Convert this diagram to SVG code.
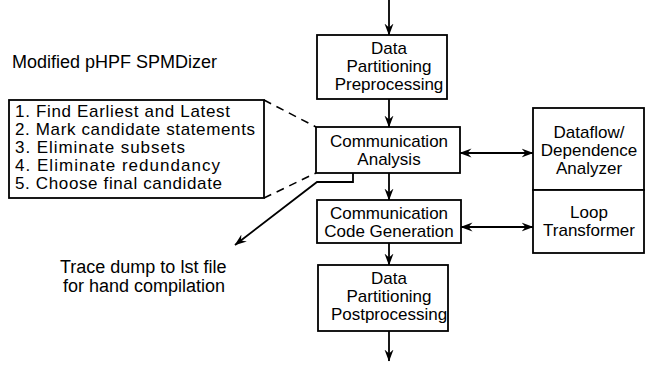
<svg xmlns="http://www.w3.org/2000/svg" width="648" height="365" viewBox="0 0 648 365">
<defs>
<marker id="ah" viewBox="0 0 12 10" refX="11.5" refY="5" markerWidth="12" markerHeight="10" markerUnits="userSpaceOnUse" orient="auto-start-reverse">
<path d="M0,0.5 L12,5 L0,9.5 L4,5 Z" fill="#000"/>
</marker>
<style>
.box{fill:#fff;stroke:#000;stroke-width:1.8}
.t{font-family:"Liberation Sans",Arial,Helvetica,sans-serif;font-size:18px;fill:#000}
.s{font-size:17px}
.c{text-anchor:middle}
.ln{fill:none;stroke:#000;stroke-width:1.8}
.dash{fill:none;stroke:#000;stroke-width:1.6;stroke-dasharray:8 6}
</style>
</defs>
<rect width="648" height="365" fill="#fff"/>
<text class="t" x="12" y="68">Modified pHPF SPMDizer</text>
<g id="connectors">
<line class="ln" x1="389" y1="0" x2="389" y2="35" marker-end="url(#ah)"/>
<line class="ln" x1="389" y1="99" x2="389" y2="127" marker-end="url(#ah)"/>
<line class="ln" x1="389" y1="173" x2="389" y2="200" marker-end="url(#ah)"/>
<line class="ln" x1="389" y1="243" x2="389" y2="265" marker-end="url(#ah)"/>
<line class="ln" x1="389" y1="331" x2="389" y2="361" marker-end="url(#ah)"/>
<line class="ln" x1="460" y1="153" x2="533" y2="153" marker-start="url(#ah)" marker-end="url(#ah)"/>
<line class="ln" x1="461" y1="227" x2="533" y2="227" marker-start="url(#ah)" marker-end="url(#ah)"/>
<path class="ln" d="M353,173 L353,182 L317,182 L235,245" marker-end="url(#ah)"/>
<line class="dash" x1="264" y1="100" x2="316" y2="127"/>
<line class="dash" x1="264" y1="198" x2="316" y2="173"/>
</g>
<g id="steps">
<rect class="box" x="9" y="100" width="255" height="98"/>
<text class="t s" x="15" y="117" textLength="215">1. Find Earliest and Latest</text>
<text class="t s" x="15" y="135" textLength="240">2. Mark candidate statements</text>
<text class="t s" x="15" y="153" textLength="170">3. Eliminate subsets</text>
<text class="t s" x="15" y="171" textLength="205">4. Eliminate redundancy</text>
<text class="t s" x="15" y="189" textLength="207">5. Choose final candidate</text>
</g>
<g id="preprocessing">
<rect class="box" x="317" y="35" width="130" height="64"/>
<text class="t s c" x="389" y="54">Data</text>
<text class="t s c" x="389" y="72">Partitioning</text>
<text class="t s c" x="389" y="90">Preprocessing</text>
</g>
<g id="comm-analysis">
<rect class="box" x="316" y="127" width="144" height="46"/>
<text class="t s c" x="389" y="147">Communication</text>
<text class="t s c" x="389" y="165">Analysis</text>
</g>
<g id="comm-codegen">
<rect class="box" x="317" y="200" width="144" height="43"/>
<text class="t s c" x="389" y="219">Communication</text>
<text class="t s c" x="389" y="237">Code Generation</text>
</g>
<g id="postprocessing">
<rect class="box" x="318" y="265" width="130" height="66"/>
<text class="t s c" x="389" y="284">Data</text>
<text class="t s c" x="389" y="302">Partitioning</text>
<text class="t s c" x="389" y="320">Postprocessing</text>
</g>
<g id="dataflow">
<rect class="box" x="533" y="108" width="111" height="82"/>
<text class="t s c" x="589" y="138">Dataflow/</text>
<text class="t s c" x="589" y="156">Dependence</text>
<text class="t s c" x="589" y="174">Analyzer</text>
</g>
<g id="loop">
<rect class="box" x="533" y="190" width="111" height="63"/>
<text class="t s c" x="589" y="218">Loop</text>
<text class="t s c" x="589" y="236">Transformer</text>
</g>
<g id="trace">
<text class="t" x="60" y="273">Trace dump to lst file</text>
<text class="t" x="63" y="292">for hand compilation</text>
</g>
</svg>
